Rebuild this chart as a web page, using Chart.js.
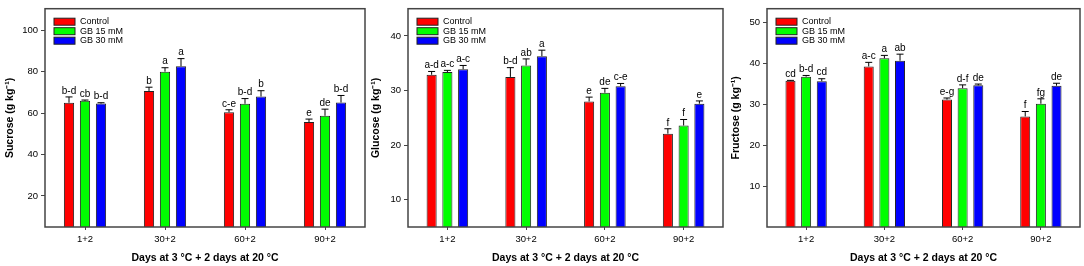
<!DOCTYPE html>
<html>
<head>
<meta charset="utf-8">
<script src="https://cdn.jsdelivr.net/npm/chart.js@4.4.1/dist/chart.umd.min.js"></script>
<style>
  body { margin: 0; background: #fff; }
  #wrap { position: relative; width: 1084px; height: 266px; }
  .panel { position: absolute; top: 0; height: 266px; }
</style>
</head>
<body>
<div id="wrap">
  <div class="panel" style="left:0px;width:368px"><canvas id="cSucrose"></canvas></div>
  <div class="panel" style="left:366px;width:360px"><canvas id="cGlucose"></canvas></div>
  <div class="panel" style="left:726px;width:358px"><canvas id="cFructose"></canvas></div>
</div>
<script>
const categories = ['1+2', '30+2', '60+2', '90+2'];
const seriesNames = ['Control', 'GB 15 mM', 'GB 30 mM'];
const seriesColors = ['#ff0000', '#00ff00', '#0000ff'];
const xTitle = 'Days at 3 °C + 2 days at 20 °C';

// sucrose
const sucroseControl = [65.0, 70.7, 60.4, 55.7];
const sucroseGB15 = [65.9, 80.0, 64.5, 58.7];
const sucroseGB30 = [64.6, 82.6, 68.0, 65.1];
const sucroseErrControl = [2.8, 1.8, 1.2, 1.4];
const sucroseErrGB15 = [0.4, 1.9, 2.5, 3.2];
const sucroseErrGB30 = [0.4, 3.7, 2.8, 3.4];
const sucroseLetControl = ['b-d', 'b', 'c-e', 'e'];
const sucroseLetGB15 = ['cb', 'a', 'b-d', 'de'];
const sucroseLetGB30 = ['b-d', 'a', 'b', 'b-d'];
const sucroseTicks = [20, 40, 60, 80, 100];

// glucose
const glucoseControl = [32.9, 32.5, 28.0, 22.1];
const glucoseGB15 = [33.4, 34.6, 29.6, 23.6];
const glucoseGB30 = [33.9, 36.3, 30.8, 27.6];
const glucoseErrControl = [0.6, 1.7, 0.8, 0.9];
const glucoseErrGB15 = [0.3, 1.2, 0.8, 1.1];
const glucoseErrGB30 = [0.7, 1.1, 0.5, 0.5];
const glucoseLetControl = ['a-d', 'b-d', 'e', 'f'];
const glucoseLetGB15 = ['a-c', 'ab', 'de', 'f'];
const glucoseLetGB30 = ['a-c', 'a', 'c-e', 'e'];
const glucoseTicks = [10, 20, 30, 40];

// fructose
const fructoseControl = [35.7, 39.2, 31.1, 27.0];
const fructoseGB15 = [36.7, 41.2, 33.9, 30.1];
const fructoseGB30 = [35.6, 40.6, 34.6, 34.5];
const fructoseErrControl = [0.1, 1.0, 0.4, 1.2];
const fructoseErrGB15 = [0.3, 0.7, 0.8, 1.2];
const fructoseErrGB30 = [0.6, 1.6, 0.3, 0.6];
const fructoseLetControl = ['cd', 'a-c', 'e-g', 'f'];
const fructoseLetGB15 = ['b-d', 'a', 'd-f', 'fg'];
const fructoseLetGB30 = ['cd', 'ab', 'de', 'de'];
const fructoseTicks = [10, 20, 30, 40, 50];

const fuente = '"Liberation Sans", Arial, sans-serif';
Chart.defaults.font.family = fuente;
Chart.defaults.color = '#000';

// caja alrededor del area del grafico
const marcoPlugin = {
    id: 'marco',
    afterDraw(chart) {
        const a = chart.chartArea, ctx = chart.ctx;
        ctx.save();
        ctx.strokeStyle = '#444';
        ctx.lineWidth = 1.5;
        ctx.strokeRect(a.left, a.top, a.right - a.left, a.bottom - a.top);
        ctx.restore();
    }
};

// barras de error + letras
const errorPlugin = {
    id: 'errores',
    afterDatasetsDraw(chart) {
        const ctx = chart.ctx, y = chart.scales.y;
        ctx.save();
        chart.data.datasets.forEach((ds, i) => {
            const meta = chart.getDatasetMeta(i);
            meta.data.forEach((bar, j) => {
                const top = y.getPixelForValue(ds.data[j] + ds.err[j]);
                ctx.strokeStyle = '#000';
                ctx.lineWidth = 1;
                ctx.beginPath();
                ctx.moveTo(bar.x, bar.y);
                ctx.lineTo(bar.x, top);
                ctx.moveTo(bar.x - 3.5, top);
                ctx.lineTo(bar.x + 3.5, top);
                ctx.stroke();
                ctx.fillStyle = '#000';
                ctx.font = '10px ' + fuente;
                ctx.textAlign = 'center';
                ctx.textBaseline = 'bottom';
                ctx.fillText(ds.letras[j], bar.x, top - 1);
            });
        });
        ctx.restore();
    }
};

// leyenda dentro del area
const leyendaPlugin = {
    id: 'leyenda',
    afterDraw(chart) {
        const a = chart.chartArea, ctx = chart.ctx;
        ctx.save();
        chart.data.datasets.forEach((ds, i) => {
            const yy = a.top + 13 + i * 9.5;
            ctx.fillStyle = ds.backgroundColor;
            ctx.fillRect(a.left + 9, yy - 3.5, 21, 7);
            ctx.strokeStyle = '#222';
            ctx.lineWidth = 1;
            ctx.strokeRect(a.left + 9, yy - 3.5, 21, 7);
            ctx.fillStyle = '#000';
            ctx.font = '9px ' + fuente;
            ctx.textAlign = 'left';
            ctx.textBaseline = 'middle';
            ctx.fillText(ds.label, a.left + 35, yy);
        });
        ctx.restore();
    }
};

function crearGrafico(id, yLabel, valores, errores, letras, ticks, min, max, anchoY, padDer) {
    const datasets = valores.map((v, i) => ({
        label: seriesNames[i],
        data: v,
        err: errores[i],
        letras: letras[i],
        backgroundColor: seriesColors[i],
        borderColor: '#222',
        borderWidth: 1,
        categoryPercentage: 0.6,
        barPercentage: 0.64
    }));

    new Chart(document.getElementById(id), {
        type: 'bar',
        plugins: [marcoPlugin, errorPlugin, leyendaPlugin],
        data: { labels: categories, datasets: datasets },
        options: {
            responsive: true,
            maintainAspectRatio: false,
            animation: false,
            layout: { padding: { top: 3, right: padDer, left: 0, bottom: 0 } },
            plugins: { legend: { display: false }, tooltip: { enabled: false } },
            scales: {
                x: {
                    grid: { display: true, offset: false, drawOnChartArea: false, drawTicks: true, tickLength: 3, color: '#444' },
                    border: { display: false },
                    ticks: { font: { size: 9.5 }, padding: 4 },
                    title: { display: true, text: xTitle, font: { size: 10.5, weight: 'bold' }, padding: { top: 8, bottom: 2 } },
                    afterFit(s) { s.height = 39; }
                },
                y: {
                    min: min,
                    max: max,
                    grid: { display: true, drawOnChartArea: false, drawTicks: true, tickLength: 4, color: '#444' },
                    border: { display: false },
                    ticks: { font: { size: 9.5 }, padding: 3 },
                    afterBuildTicks(s) { s.ticks = ticks.map(v => ({ value: v })); },
                    title: { display: true, text: yLabel, font: { size: 10.5, weight: 'bold' }, padding: { top: 4, bottom: 4 } },
                    afterFit(s) { s.width = anchoY; }
                }
            }
        }
    });
}

crearGrafico('cSucrose', 'Sucrose (g kg⁻¹)',
    [sucroseControl, sucroseGB15, sucroseGB30],
    [sucroseErrControl, sucroseErrGB15, sucroseErrGB30],
    [sucroseLetControl, sucroseLetGB15, sucroseLetGB30],
    sucroseTicks, 5, 110.4, 45, 3);

crearGrafico('cGlucose', 'Glucose (g kg⁻¹)',
    [glucoseControl, glucoseGB15, glucoseGB30],
    [glucoseErrControl, glucoseErrGB15, glucoseErrGB30],
    [glucoseLetControl, glucoseLetGB15, glucoseLetGB30],
    glucoseTicks, 5, 45, 42, 3);

crearGrafico('cFructose', 'Fructose (g kg⁻¹)',
    [fructoseControl, fructoseGB15, fructoseGB30],
    [fructoseErrControl, fructoseErrGB15, fructoseErrGB30],
    [fructoseLetControl, fructoseLetGB15, fructoseLetGB30],
    fructoseTicks, 0, 53.3, 41, 4);
</script>
</body>
</html>
